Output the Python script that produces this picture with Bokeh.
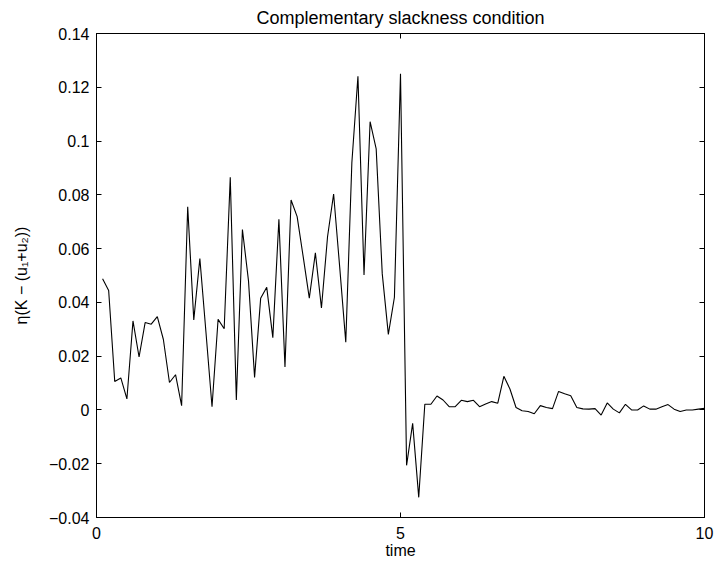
from bokeh.plotting import figure
from bokeh.models import Range1d, LinearAxis, FixedTicker
from bokeh.embed import file_html
from bokeh.resources import INLINE

time = [0.1, 0.2, 0.3, 0.4, 0.5, 0.6, 0.7, 0.8, 0.9, 1.0,
        1.1, 1.2, 1.3, 1.4, 1.5, 1.6, 1.7, 1.8, 1.9, 2.0,
        2.1, 2.2, 2.3, 2.4, 2.5, 2.6, 2.7, 2.8, 2.9, 3.0,
        3.1, 3.2, 3.3, 3.4, 3.5, 3.6, 3.7, 3.8, 3.9, 4.0,
        4.1, 4.2, 4.3, 4.4, 4.5, 4.6, 4.7, 4.8, 4.9, 5.0,
        5.1, 5.2, 5.3, 5.4, 5.5, 5.6, 5.7, 5.8, 5.9, 6.0,
        6.1, 6.2, 6.3, 6.4, 6.5, 6.6, 6.7, 6.8, 6.9, 7.0,
        7.1, 7.2, 7.3, 7.4, 7.5, 7.6, 7.7, 7.8, 7.9, 8.0,
        8.1, 8.2, 8.3, 8.4, 8.5, 8.6, 8.7, 8.8, 8.9, 9.0,
        9.1, 9.2, 9.3, 9.4, 9.5, 9.6, 9.7, 9.8, 9.9, 10.0]

slackness = [0.0488, 0.0444, 0.0106, 0.0119, 0.0041, 0.0331, 0.0197, 0.0325, 0.0319, 0.0347,
             0.0262, 0.0102, 0.0131, 0.0016, 0.0756, 0.0335, 0.0563, 0.0290, 0.0012, 0.0337,
             0.0302, 0.0865, 0.0037, 0.0671, 0.0480, 0.0121, 0.0415, 0.0456, 0.0269, 0.0709,
             0.0160, 0.0781, 0.0719, 0.0569, 0.0416, 0.0584, 0.0379, 0.0644, 0.0803, 0.0531,
             0.0252, 0.0919, 0.1241, 0.0502, 0.1072, 0.0971, 0.0506, 0.0281, 0.0419, 0.1250,
             -0.0206, -0.0050, -0.0325, 0.0021, 0.0021, 0.0052, 0.0037, 0.0012, 0.0012, 0.0036,
             0.0031, 0.0036, 0.0012, 0.0022, 0.0031, 0.0025, 0.0125, 0.0078, 0.0009, -0.0003,
             -0.0006, -0.0014, 0.0016, 0.0009, 0.0005, 0.0069, 0.0060, 0.0053, 0.0009, 0.0004,
             0.0003, 0.0005, -0.0019, 0.0026, 0.0003, -0.0011, 0.0021, 0.0000, 0.0000, 0.0015,
             0.0003, 0.0003, 0.0012, 0.0020, 0.0003, -0.0006, 0.0000, 0.0000, 0.0003, 0.0006]

x_ticks = [0, 5, 10]
x_tick_labels = ["0", "5", "10"]
y_ticks = [-0.04, -0.02, 0.0, 0.02, 0.04, 0.06, 0.08, 0.1, 0.12, 0.14]
y_tick_labels = ["\u22120.04", "\u22120.02", "0", "0.02", "0.04", "0.06", "0.08", "0.1", "0.12", "0.14"]

FONT = "Liberation Sans"

p = figure(width=717, height=564, output_backend="svg", toolbar_location=None,
           x_range=Range1d(0, 10), y_range=Range1d(-0.04, 0.14),
           title="Complementary slackness condition",
           min_border_left=96, min_border_right=13, min_border_top=33, min_border_bottom=47)

p.title.align = "center"
p.title.text_font = FONT
p.title.text_font_size = "18px"
p.title.text_font_style = "normal"
p.title.text_color = "black"
p.title.offset = 0
p.title.standoff = 11

p.background_fill_color = "white"
p.border_fill_color = "white"
p.outline_line_color = "black"
p.outline_line_width = 1
p.grid.visible = False

p.line(time, slackness, line_color="black", line_width=1.1)

for ax, ticks, labels in ((p.xaxis[0], x_ticks, x_tick_labels), (p.yaxis[0], y_ticks, y_tick_labels)):
    ax.ticker = FixedTicker(ticks=ticks)
    ax.major_label_overrides = {t: l for t, l in zip(ticks, labels)}
    ax.major_tick_in = 5
    ax.major_tick_out = 0
    ax.minor_tick_in = 0
    ax.minor_tick_out = 0
    ax.axis_line_color = "black"
    ax.major_tick_line_color = "black"
    ax.major_label_text_font = FONT
    ax.major_label_text_font_size = "16px"
    ax.major_label_text_color = "black"
    ax.axis_label_text_font = FONT
    ax.axis_label_text_font_size = "16px"
    ax.axis_label_text_font_style = "normal"
    ax.axis_label_text_color = "black"

p.xaxis[0].axis_label = "time"
p.xaxis[0].major_label_standoff = 9
p.xaxis[0].axis_label_standoff = 0
p.yaxis[0].axis_label = "\u03b7(K \u2212 (u\u2081+u\u2082))"
p.yaxis[0].major_label_standoff = 7
p.yaxis[0].axis_label_standoff = 16

top_ax = LinearAxis(ticker=FixedTicker(ticks=x_ticks))
right_ax = LinearAxis(ticker=FixedTicker(ticks=y_ticks))
for ax in (top_ax, right_ax):
    ax.major_tick_in = 5
    ax.major_tick_out = 0
    ax.minor_tick_in = 0
    ax.minor_tick_out = 0
    ax.axis_line_color = "black"
    ax.major_tick_line_color = "black"
    ax.major_label_text_font_size = "0px"
    ax.major_label_text_color = None
    ax.major_label_standoff = 0
p.add_layout(top_ax, "above")
p.add_layout(right_ax, "right")

open("out.html", "w").write(file_html(p, INLINE))
